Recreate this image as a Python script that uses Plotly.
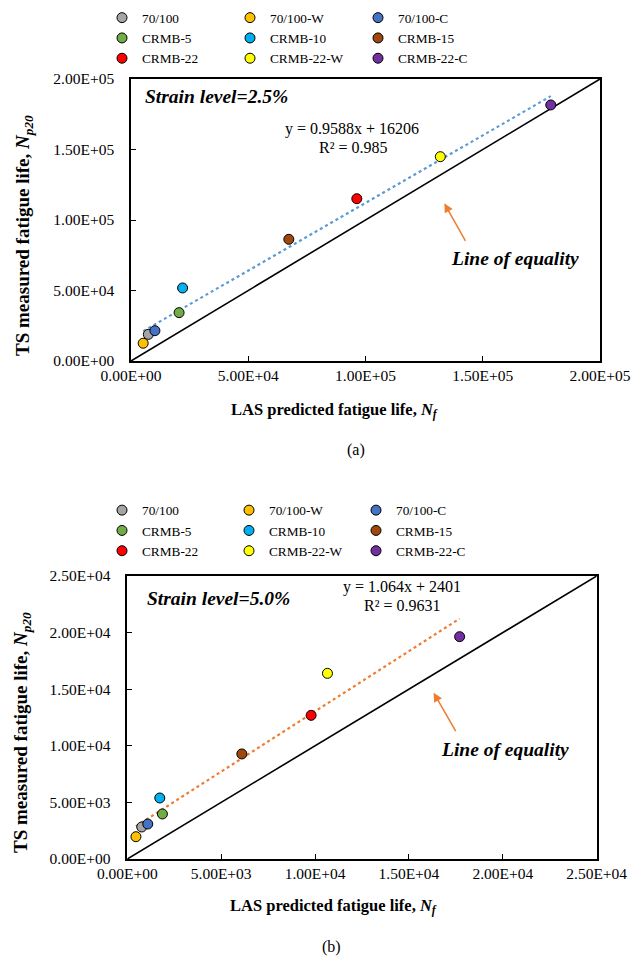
import plotly.graph_objects as go

# ---------------- data ----------------
samples = ["70/100", "70/100-W", "70/100-C", "CRMB-5", "CRMB-10", "CRMB-15",
           "CRMB-22", "CRMB-22-W", "CRMB-22-C"]
sample_colors = ["#A5A5A5", "#FFC000", "#4472C4", "#70AD47", "#00B0F0", "#9E480E",
                 "#FF0000", "#FFFF00", "#7030A0"]

# Strain level 2.5 %
las_a = [7400, 5200, 10200, 20500, 22000, 67300, 96300, 131900, 179000]
ts_a = [18900, 12600, 21500, 34300, 51800, 86300, 115100, 144900, 181600]
slope_a, intercept_a = 0.9588, 16206
eq_a = ["y = 0.9588x + 16206", "R² = 0.985"]

# Strain level 5.0 %
las_b = [770, 460, 1090, 1870, 1730, 6100, 9790, 10660, 17700]
ts_b = [2830, 1970, 3090, 3980, 5390, 9280, 12690, 16400, 19640]
slope_b, intercept_b = 1.064, 2401
eq_b = ["y = 1.064x + 2401", "R² = 0.9631"]

ticks_a = [0, 50000, 100000, 150000, 200000]
ticktext_a = ["0.00E+00", "5.00E+04", "1.00E+05", "1.50E+05", "2.00E+05"]
ticks_b = [0, 5000, 10000, 15000, 20000, 25000]
ticktext_b = ["0.00E+00", "5.00E+03", "1.00E+04", "1.50E+04", "2.00E+04", "2.50E+04"]

FONT = "Times New Roman, Liberation Serif, DejaVu Serif, serif"
W, H = 631, 962


def px(x):
    return x / W


def py(y):
    return 1 - y / H


fig = go.Figure()

legend_cols = [[0, 3, 6], [1, 4, 7], [2, 5, 8]]


def add_panel(las, ts, slope, intercept, lmax, xa, ya, trend_color, legend_offset):
    # line of equality
    fig.add_trace(go.Scatter(x=[0, lmax], y=[0, lmax], mode="lines",
                             line=dict(color="black", width=1.6),
                             showlegend=False, hoverinfo="skip", xaxis=xa, yaxis=ya))
    # trend line
    tx = [min(las), max(las)]
    ty = [slope * v + intercept for v in tx]
    fig.add_trace(go.Scatter(x=tx, y=ty, mode="lines",
                             line=dict(color=trend_color, width=2.2, dash="dot"),
                             showlegend=False, hoverinfo="skip", xaxis=xa, yaxis=ya))
    for c, idxs in enumerate(legend_cols):
        lg = "legend" if (c + legend_offset) == 0 else f"legend{c + legend_offset + 1}"
        for i in idxs:
            fig.add_trace(go.Scatter(
                x=[las[i]], y=[ts[i]], mode="markers", name=samples[i],
                marker=dict(size=10, color=sample_colors[i],
                            line=dict(color="black", width=1)),
                legend=lg, xaxis=xa, yaxis=ya))


add_panel(las_a, ts_a, slope_a, intercept_a, 200000, "x", "y", "#5B9BD5", 0)
add_panel(las_b, ts_b, slope_b, intercept_b, 25000, "x2", "y2", "#ED7D31", 3)

axis_common = dict(showgrid=False, zeroline=False, showline=True, linecolor="black",
                   linewidth=1.5, mirror=True, ticks="inside", ticklen=5,
                   tickcolor="black", tickwidth=1, automargin=False,
                   tickfont=dict(family=FONT, size=15.5, color="black"))

fig.update_layout(
    width=W, height=H, margin=dict(l=0, r=0, t=0, b=0, autoexpand=False),
    paper_bgcolor="white", plot_bgcolor="white",
    xaxis=dict(domain=[px(131), px(600)], range=[0, 200000], anchor="y",
               tickvals=ticks_a, ticktext=ticktext_a, ticklabelstandoff=0, **axis_common),
    yaxis=dict(domain=[py(361), py(79)], range=[0, 200000], anchor="x",
               tickvals=ticks_a, ticktext=ticktext_a, ticklabelstandoff=12, **axis_common),
    xaxis2=dict(domain=[px(127.3), px(596.7)], range=[0, 25000], anchor="y2",
                tickvals=ticks_b, ticktext=ticktext_b, ticklabelstandoff=0, **axis_common),
    yaxis2=dict(domain=[py(859), py(576)], range=[0, 25000], anchor="x2",
                tickvals=ticks_b, ticktext=ticktext_b, ticklabelstandoff=12, **axis_common),
)

leg_font = dict(family=FONT, size=13.3, color="black")
col_x_a = [102, 230, 358]
col_x_b = [102, 229, 356]
for c in range(3):
    key = "legend" if c == 0 else f"legend{c + 1}"
    fig.update_layout(**{key: dict(x=px(col_x_a[c]), y=py(2.5), xanchor="left", yanchor="top",
                                   orientation="v", font=leg_font, bgcolor="rgba(0,0,0,0)",
                                   tracegroupgap=0, itemwidth=30)})
    keyb = f"legend{c + 4}"
    fig.update_layout(**{keyb: dict(x=px(col_x_b[c]), y=py(495), xanchor="left", yanchor="top",
                                    orientation="v", font=leg_font, bgcolor="rgba(0,0,0,0)",
                                    tracegroupgap=0, itemwidth=30)})

ann = []


def text(x, y, t, size, xanchor="center", angle=0):
    ann.append(dict(x=px(x), y=py(y), xref="paper", yref="paper", text=t, showarrow=False,
                    xanchor=xanchor, yanchor="middle", textangle=angle,
                    font=dict(family=FONT, size=size, color="black")))


# panel (a)
text(143, 97, "<b><i>Strain level=2.5%</i></b>", 19.5, xanchor="left")
text(352, 129, eq_a[0], 16)
text(353, 147, eq_a[1], 16)
text(515, 259, "<b><i>Line of equality</i></b>", 19.5)
text(24, 236, "<b>TS measured fatigue life, <i>N<sub>p20</sub></i></b>", 19, angle=-90)
text(334, 411, "<b>LAS predicted fatigue life, <i>N<sub>f</sub></i></b>", 16.5)
text(356, 450, "(a)", 16)

# panel (b)
text(145, 598, "<b><i>Strain level=5.0%</i></b>", 19.5, xanchor="left")
text(402, 587, eq_b[0], 16)
text(402, 605, eq_b[1], 16)
text(505, 749, "<b><i>Line of equality</i></b>", 19.5)
text(22, 733, "<b>TS measured fatigue life, <i>N<sub>p20</sub></i></b>", 19, angle=-90)
text(333, 906, "<b>LAS predicted fatigue life, <i>N<sub>f</sub></i></b>", 16.5)
text(331, 947, "(b)", 16)

# arrows pointing to the line of equality
ann.append(dict(x=133600, y=111840, xref="x", yref="y", ax=22, ay=39, text="",
                showarrow=True, arrowhead=2, arrowsize=1.2, arrowwidth=1.5,
                arrowcolor="#ED7D31"))
ann.append(dict(x=16311, y=14691, xref="x2", yref="y2", ax=23, ay=40, text="",
                showarrow=True, arrowhead=2, arrowsize=1.2, arrowwidth=1.5,
                arrowcolor="#ED7D31"))

fig.update_layout(annotations=ann)

fig.write_html("out.html")
